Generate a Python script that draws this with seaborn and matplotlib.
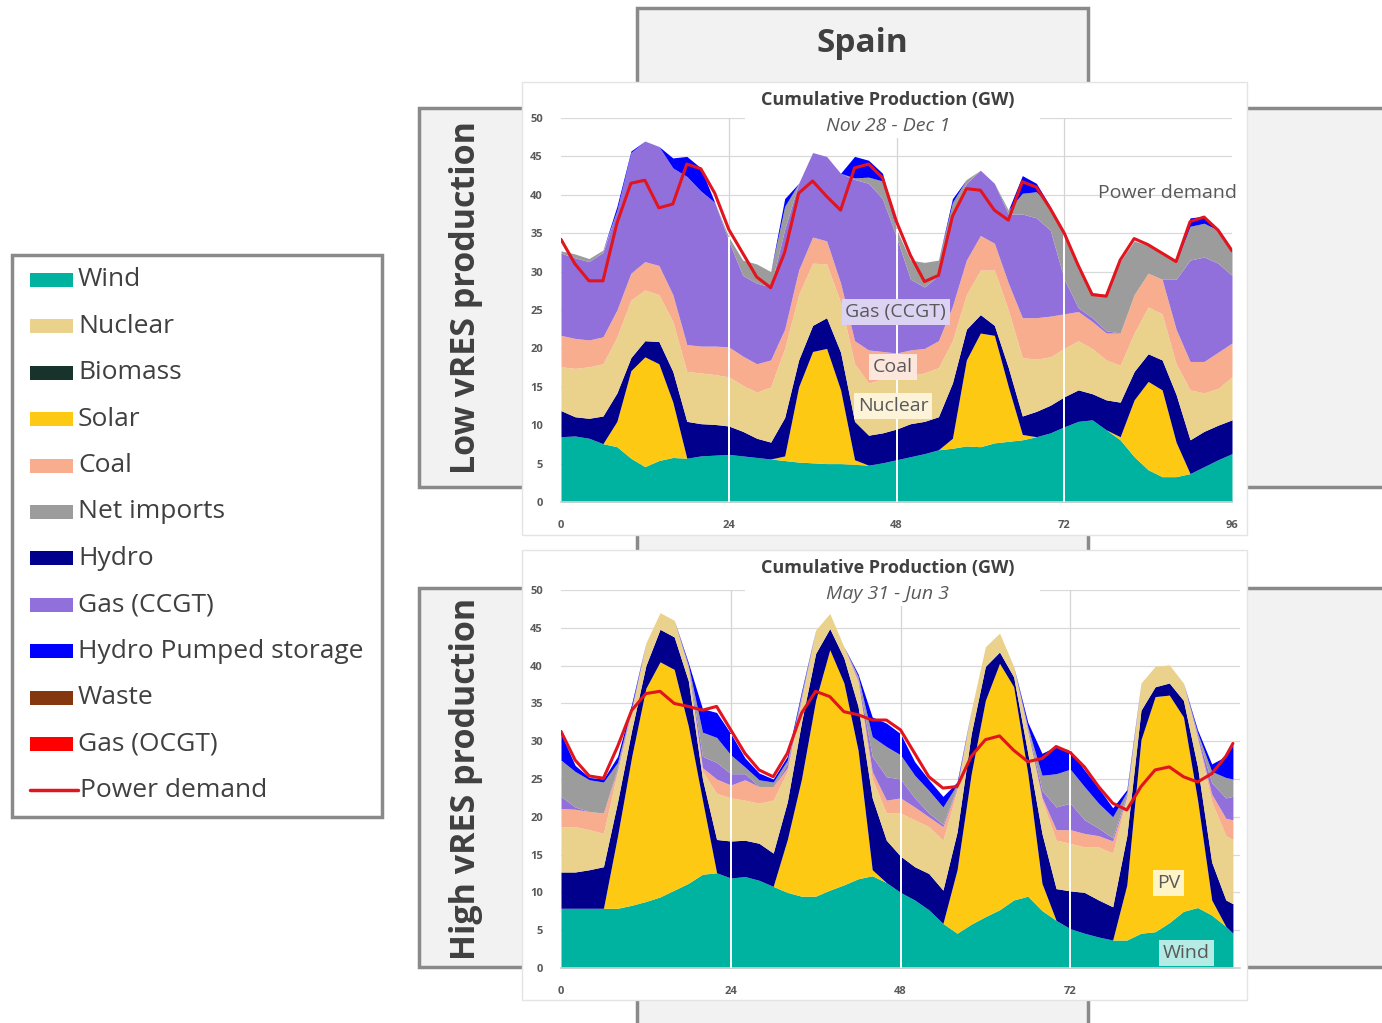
import numpy as np
import seaborn as sns
import matplotlib.pyplot as plt
from matplotlib.patches import Rectangle

sns.set_theme(style="white")
plt.rcParams['font.family'] = ['Open Sans', 'DejaVu Sans']

W, H = 1382, 1023

# Hours of the 4-day windows (values read every 2 h)
hours_low = list(range(0, 97, 2))
hours_high = list(range(0, 95, 2)) + [95]

# Low vRES production (Nov 28 - Dec 1): cumulative top of each stacked layer, GW
low_wind = [8.5, 8.6, 8.3, 7.6, 7.2, 5.7, 4.6, 5.4, 5.8, 5.7, 6.0, 6.1, 6.2,
            6.0, 5.8, 5.6, 5.4, 5.2, 5.1, 5.0, 5.0, 4.9, 4.8, 5.1, 5.5,
            5.9, 6.3, 6.8, 7.0, 7.3, 7.2, 7.7, 7.9, 8.1, 8.5, 9.0, 9.8,
            10.5, 10.7, 9.4, 8.1, 5.9, 4.2, 3.3, 3.3, 3.7, 4.6, 5.5, 6.3]
low_solar = [8.5, 8.6, 8.3, 7.6, 10.5, 17.1, 18.9, 18.0, 13.0, 5.7, 6.0, 6.1, 6.2,
             6.0, 5.8, 5.6, 6.0, 15.0, 19.6, 20.0, 14.6, 5.5, 4.8, 5.1, 5.5,
             5.9, 6.3, 6.8, 8.3, 18.5, 22.0, 21.7, 15.0, 8.8, 8.5, 9.0, 9.8,
             10.5, 10.7, 9.4, 8.5, 13.3, 15.7, 14.6, 7.8, 3.7, 4.6, 5.5, 6.3]
low_hydro = [11.9, 11.1, 10.9, 11.2, 14.2, 18.8, 21.0, 20.9, 17.0, 10.5, 10.2, 10.1, 9.9,
             9.2, 8.3, 7.8, 11.0, 18.5, 23.0, 24.0, 19.5, 10.5, 8.7, 9.0, 9.5,
             10.2, 10.5, 11.1, 15.5, 22.5, 24.4, 23.0, 17.5, 11.2, 11.8, 12.6, 13.7,
             14.6, 14.1, 13.3, 13.0, 17.0, 19.3, 18.5, 14.0, 8.1, 9.2, 10.0, 10.7]
low_nuclear = [17.6, 17.4, 17.6, 18.0, 21.5, 26.3, 27.6, 27.0, 23.5, 17.0, 16.8, 16.6, 16.3,
               15.2, 14.3, 15.0, 20.0, 27.0, 31.1, 31.0, 26.0, 18.0, 15.5, 16.0, 16.5,
               16.5, 16.8, 17.5, 21.0, 27.0, 30.2, 30.2, 25.0, 18.8, 18.6, 18.9, 20.0,
               21.0, 20.0, 18.5, 17.8, 22.0, 25.4, 24.5, 18.0, 14.6, 14.2, 14.8, 16.3]
low_coal = [21.7, 21.3, 21.1, 21.5, 25.0, 29.8, 31.3, 30.8, 27.0, 20.5, 20.3, 20.3, 20.2,
            19.0, 18.0, 18.5, 22.5, 30.2, 34.5, 34.0, 28.5, 21.0, 19.8, 19.6, 19.4,
            19.8, 20.0, 21.0, 25.5, 31.5, 34.7, 33.7, 28.5, 24.0, 24.0, 24.2, 24.5,
            24.8, 23.5, 22.0, 22.0, 27.0, 29.8, 29.0, 22.5, 18.3, 18.3, 19.5, 20.7]
low_ccgt = [32.4, 31.8, 31.3, 32.5, 38.0, 45.5, 47.0, 46.3, 43.5, 42.4, 40.5, 39.0, 34.0,
            29.5, 28.5, 28.0, 35.5, 41.5, 45.5, 45.0, 42.8, 42.0, 41.5, 39.5, 34.5,
            29.0, 28.0, 29.5, 37.5, 41.5, 43.2, 41.5, 37.5, 37.5, 37.0, 35.4, 29.0,
            25.3, 24.0, 22.3, 22.0, 27.0, 29.8, 29.0, 29.0, 31.5, 31.9, 31.1, 29.5]
low_imports = [32.7, 32.3, 31.7, 32.8, 38.0, 45.5, 47.0, 46.3, 43.5, 42.4, 40.5, 39.0, 34.5,
               31.5, 31.0, 30.0, 38.5, 41.5, 45.5, 45.0, 42.8, 42.2, 42.3, 41.8, 35.5,
               31.5, 31.2, 31.5, 39.0, 42.0, 43.2, 41.5, 38.0, 40.2, 40.4, 38.5, 35.0,
               30.3, 27.3, 27.0, 31.3, 34.0, 33.4, 32.3, 31.2, 35.9, 36.3, 35.4, 33.0]
low_pumped = [32.7, 32.3, 31.7, 32.8, 38.5, 45.7, 47.0, 46.3, 44.8, 45.0, 43.5, 39.0, 34.5,
              31.5, 31.0, 30.0, 39.5, 41.5, 45.5, 45.0, 42.8, 45.0, 44.5, 42.8, 35.5,
              31.5, 31.2, 31.5, 39.5, 42.0, 43.2, 41.5, 38.0, 42.5, 41.5, 38.5, 35.0,
              30.3, 27.3, 27.0, 31.3, 34.0, 33.4, 32.3, 31.2, 37.0, 37.2, 35.6, 33.0]
low_demand = [34.2, 31.0, 28.8, 28.8, 36.3, 41.5, 41.9, 38.3, 38.8, 44.0, 43.4, 40.2, 35.5,
              32.4, 29.3, 27.9, 32.5, 40.2, 41.8, 39.8, 38.0, 43.5, 44.0, 42.2, 36.5,
              32.1, 28.7, 29.5, 37.2, 40.8, 40.6, 38.0, 36.7, 41.7, 41.0, 38.2, 35.0,
              30.8, 27.0, 26.8, 31.5, 34.3, 33.5, 32.4, 31.3, 36.5, 37.1, 35.4, 32.7]

# High vRES production (May 31 - Jun 3)
high_wind = [7.9, 7.9, 7.9, 7.9, 7.9, 8.3, 8.8, 9.4, 10.3, 11.2, 12.4, 12.6, 11.9,
             12.1, 11.6, 10.8, 10.0, 9.5, 9.5, 10.3, 11.0, 11.8, 12.2, 11.3, 10.0,
             9.0, 7.7, 5.9, 4.6, 5.8, 6.8, 7.7, 9.0, 9.5, 7.6, 6.3, 5.2,
             4.6, 4.1, 3.7, 3.7, 4.6, 4.8, 6.0, 7.5, 8.0, 7.0, 5.5, 4.6]
high_solar = [7.9, 7.9, 7.9, 7.9, 17.5, 28.0, 37.0, 40.5, 39.5, 32.0, 22.2, 12.6, 11.9,
              12.1, 11.6, 10.8, 17.0, 25.0, 35.4, 42.1, 37.7, 28.8, 13.0, 11.3, 10.0,
              9.0, 7.7, 5.9, 13.0, 25.7, 35.4, 40.3, 37.2, 25.7, 11.2, 6.3, 5.2,
              4.6, 4.1, 3.7, 11.0, 30.2, 35.9, 36.1, 33.2, 22.2, 9.0, 5.5, 4.6]
high_hydro = [12.7, 12.7, 13.0, 13.4, 22.0, 31.5, 40.0, 44.8, 43.8, 38.0, 25.0, 17.0, 16.8,
              16.9, 16.5, 15.2, 22.0, 32.5, 41.6, 44.9, 41.0, 34.6, 22.5, 16.9, 14.8,
              13.4, 12.5, 10.3, 18.0, 31.0, 39.9, 41.8, 38.5, 28.4, 17.8, 10.5, 10.2,
              10.0, 9.0, 8.1, 17.5, 34.1, 37.2, 37.7, 35.4, 26.6, 14.0, 9.0, 8.5]
high_nuclear = [18.7, 18.7, 18.3, 17.8, 26.0, 34.0, 43.0, 47.0, 46.0, 39.5, 26.0, 23.1, 22.5,
                22.2, 21.8, 22.2, 26.0, 35.5, 44.7, 46.9, 42.5, 37.7, 25.0, 20.5, 20.5,
                19.6, 18.7, 16.9, 23.5, 34.1, 42.5, 44.3, 39.9, 31.0, 22.2, 16.9, 16.5,
                16.0, 16.0, 15.2, 22.5, 37.7, 39.9, 40.1, 37.7, 30.2, 22.0, 17.5, 17.0]
high_coal = [21.1, 21.0, 20.7, 20.5, 26.3, 34.2, 43.0, 47.0, 46.0, 39.7, 26.5, 25.0, 24.2,
             24.9, 24.0, 24.0, 26.5, 35.7, 44.7, 46.9, 42.5, 38.0, 26.0, 22.2, 22.5,
             21.3, 20.0, 18.7, 23.8, 34.1, 42.5, 44.3, 39.9, 31.3, 22.6, 18.3, 18.3,
             17.8, 17.5, 16.8, 22.7, 37.7, 39.9, 40.1, 37.7, 30.5, 23.0, 19.8, 19.6]
high_ccgt = [22.7, 21.3, 20.7, 20.5, 26.6, 34.4, 43.0, 47.0, 46.0, 39.9, 28.0, 27.2, 25.7,
             25.7, 24.0, 24.0, 27.0, 36.0, 44.7, 46.9, 42.5, 38.3, 28.0, 25.3, 25.0,
             22.5, 20.5, 19.0, 24.0, 34.1, 42.5, 44.3, 39.9, 31.6, 23.5, 21.3, 21.8,
             19.6, 18.5, 17.2, 23.0, 37.7, 39.9, 40.1, 37.7, 30.8, 24.5, 22.5, 22.7]
high_imports = [27.5, 26.0, 24.9, 24.6, 27.2, 34.6, 43.0, 47.0, 46.0, 40.1, 31.2, 30.5, 28.2,
                26.6, 24.9, 24.6, 27.5, 36.3, 44.7, 46.9, 42.5, 38.6, 30.6, 29.3, 28.2,
                25.5, 23.5, 21.3, 24.3, 34.1, 42.5, 44.3, 39.9, 31.9, 25.5, 25.7, 26.3,
                24.0, 21.8, 20.0, 23.3, 37.7, 39.9, 40.1, 37.7, 31.1, 26.0, 25.2, 25.0]
high_pumped = [31.0, 26.8, 25.2, 25.0, 28.0, 35.0, 43.0, 47.0, 46.0, 40.4, 34.3, 33.8, 31.0,
               27.8, 25.8, 25.0, 28.0, 36.6, 44.7, 46.9, 42.5, 38.9, 33.2, 32.4, 31.0,
               27.3, 24.9, 22.7, 24.6, 34.1, 42.5, 44.3, 39.9, 32.5, 28.4, 29.3, 28.8,
               26.2, 23.8, 21.2, 23.6, 37.7, 39.9, 40.1, 37.7, 31.5, 27.0, 28.0, 29.5]
high_demand = [31.3, 27.5, 25.4, 25.1, 29.3, 34.1, 36.3, 36.6, 35.0, 34.6, 34.1, 34.6, 31.5,
               28.4, 26.2, 25.3, 28.4, 33.7, 36.6, 35.9, 33.9, 33.5, 32.8, 32.8, 31.5,
               28.4, 25.3, 23.8, 24.0, 28.0, 30.2, 30.7, 28.8, 27.3, 27.7, 29.3, 28.5,
               26.6, 24.0, 21.8, 20.9, 24.0, 26.2, 26.6, 25.3, 24.6, 25.7, 28.0, 29.7]

stack_order = ['Wind', 'Solar', 'Hydro', 'Nuclear', 'Coal', 'Gas (CCGT)',
               'Net imports', 'Hydro Pumped storage']
legend_order = ['Wind', 'Nuclear', 'Biomass', 'Solar', 'Coal', 'Net imports', 'Hydro',
                'Gas (CCGT)', 'Hydro Pumped storage', 'Waste', 'Gas (OCGT)']
colors = {
    'Wind': '#00b3a0', 'Solar': '#fdc912', 'Hydro': '#00008c', 'Nuclear': '#ead28c',
    'Coal': '#f8ae8e', 'Gas (CCGT)': '#9270dc', 'Net imports': '#9c9c9c',
    'Hydro Pumped storage': '#0000ff', 'Biomass': '#17332b', 'Waste': '#85380f',
    'Gas (OCGT)': '#ff0000',
}
demand_color = '#e2141d'
text_gray = '#404040'
box_edge = '#8a8a8a'
box_fill = '#f2f2f2'


def draw_panel(ax, hours, tops, demand, xticks):
    lower = np.zeros(len(hours))
    for name, top in zip(stack_order, tops):
        top = np.asarray(top, dtype=float)
        ax.fill_between(hours, lower, top, color=colors[name], lw=0, zorder=2)
        lower = top
    for y in range(5, 51, 5):
        ax.axhline(y, color='#d9d9d9', lw=0.9, zorder=1)
    for d in (24, 48, 72):
        ax.axvline(d, color='#d4d4d4', lw=0.9, zorder=1)
        ax.vlines(d, 0, np.interp(d, hours, lower), color='white', lw=1.4, zorder=3)
    sns.lineplot(x=hours, y=demand, ax=ax, color=demand_color, lw=2.2, zorder=4,
                 legend=False)
    ax.set_xlim(0, 96)
    ax.set_ylim(0, 50)
    ax.set_xticks(xticks)
    ax.set_yticks(range(0, 51, 5))
    ax.set_xlabel('')
    ax.set_ylabel('')
    ax.tick_params(axis='y', length=0, pad=13, labelsize=8, labelcolor='#595959')
    ax.tick_params(axis='x', length=0, pad=13, labelsize=8, labelcolor='#595959')
    for lbl in ax.get_xticklabels() + ax.get_yticklabels():
        lbl.set_fontweight('bold')
    for side in ('top', 'right', 'left'):
        ax.spines[side].set_visible(False)
    ax.spines['bottom'].set_color('#d0d0d0')
    ax.patch.set_visible(False)


def label(ax, x, y, text, bg):
    ax.text(x, y, text, ha='center', va='center', fontsize=14, color='#595959', zorder=6,
            bbox=dict(boxstyle='square,pad=0.2', fc=bg, ec='none'))


fig = plt.figure(figsize=(W / 100, H / 100), dpi=100)

# background layer in pixel coordinates: frames, panels, legend
bg = fig.add_axes([0, 0, 1, 1], zorder=0)
bg.set_xlim(0, W)
bg.set_ylim(H, 0)
bg.axis('off')

for y0 in (108, 588):
    bg.add_patch(Rectangle((419, y0), 1000, 379, fc=box_fill, ec=box_edge, lw=2.5))
bg.add_patch(Rectangle((637, 8), 451, 1040, fc=box_fill, ec=box_edge, lw=2.5))
bg.text(862, 44, 'Spain', ha='center', va='center', fontsize=24, fontweight='bold',
        color=text_gray)
bg.text(466, 298, 'Low vRES production', rotation=90, ha='center', va='center',
        fontsize=24.5, fontweight='bold', color=text_gray)
bg.text(466, 779, 'High vRES production', rotation=90, ha='center', va='center',
        fontsize=24.5, fontweight='bold', color=text_gray)

for y0, y1 in ((82, 535), (550, 1000)):
    bg.add_patch(Rectangle((522, y0), 725, y1 - y0, fc='white', ec='#e4e4e4', lw=1))

# legend
bg.add_patch(Rectangle((12, 255), 370, 562, fc='white', ec=box_edge, lw=2.5))
row_y = 280
for name in legend_order:
    bg.add_patch(Rectangle((30, row_y - 7), 43, 14, fc=colors[name], ec='none'))
    bg.text(78, row_y, name, ha='left', va='center', fontsize=19, color=text_gray)
    row_y += 46.4
bg.plot([30, 78], [row_y, row_y], color=demand_color, lw=2.5)
bg.text(80, row_y, 'Power demand', ha='left', va='center', fontsize=19, color=text_gray)

# titles of the two charts, on a white strip that hides the top gridline
for y_title, period in ((100, 'Nov 28 - Dec 1'), (568, 'May 31 - Jun 3')):
    fig.patches.append(Rectangle((745 / W, 1 - (y_title + 38) / H), 295 / W, 48 / H,
                                 transform=fig.transFigure, fc='white', ec='none',
                                 zorder=4))
    fig.text(888 / W, 1 - y_title / H, 'Cumulative Production (GW)', ha='center',
             va='center', fontsize=13, fontweight='bold', color=text_gray, zorder=5)
    fig.text(888 / W, 1 - (y_title + 26) / H, period, ha='center', va='center',
             fontsize=14, fontstyle='italic', color='#595959', zorder=5)

# charts
ax_low = fig.add_axes([561 / W, 1 - 502 / H, 671 / W, 384 / H], zorder=1)
draw_panel(ax_low, hours_low,
           [low_wind, low_solar, low_hydro, low_nuclear, low_coal, low_ccgt,
            low_imports, low_pumped],
           low_demand, [0, 24, 48, 72, 96])
ax_low.text(86.8, 40.2, 'Power demand', ha='center', va='center', fontsize=14,
            color='#595959', zorder=6)
label(ax_low, 47.9, 24.7, 'Gas (CCGT)', '#dcd3f3')
label(ax_low, 47.5, 17.6, 'Coal', '#fde7dc')
label(ax_low, 47.5, 12.5, 'Nuclear', '#fcf3d8')

ax_high = fig.add_axes([561 / W, 1 - 968 / H, 679 / W, 378 / H], zorder=1)
draw_panel(ax_high, hours_high,
           [high_wind, high_solar, high_hydro, high_nuclear, high_coal, high_ccgt,
            high_imports, high_pumped],
           high_demand, [0, 24, 48, 72])
label(ax_high, 85.9, 11.2, 'PV', '#fff4c6')
label(ax_high, 88.4, 2.0, 'Wind', '#b5ebe5')

fig.savefig('out.png', dpi=100)
